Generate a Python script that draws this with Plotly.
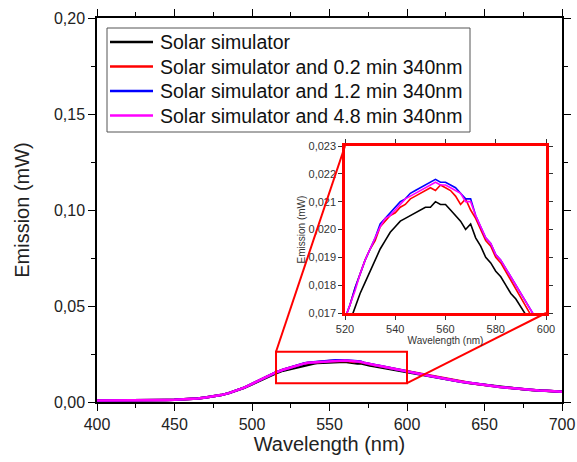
import plotly.graph_objects as go

# ---------------- data ----------------
wl_left = [400, 405, 410, 415, 420, 425, 430, 435, 440, 445, 450, 455, 460, 465,
           470, 475, 480, 485, 490, 495, 500, 505, 510, 515]
wl_mid = list(range(520, 601, 2))
wl_right = [605, 610, 615, 620, 625, 630, 635, 640, 645, 650, 655, 660, 665, 670,
            675, 680, 685, 690, 695, 700]
wavelength = wl_left + wl_mid + wl_right

left_colored = [0.0008, 0.0008, 0.0009, 0.0009, 0.0010, 0.0010, 0.0010, 0.0011, 0.0011,
                0.0011, 0.0012, 0.0013, 0.0015, 0.0018, 0.0023, 0.0028, 0.0036, 0.0046,
                0.0059, 0.0075, 0.0094, 0.0114, 0.0135, 0.0153]
left_black = [0.0008, 0.0008, 0.0009, 0.0009, 0.0010, 0.0010, 0.0010, 0.0011, 0.0011,
              0.0011, 0.0012, 0.0013, 0.0015, 0.0018, 0.0023, 0.0028, 0.0036, 0.0046,
              0.0059, 0.0074, 0.0092, 0.0111, 0.0131, 0.0148]
right_colored = [0.0152, 0.0143, 0.0135, 0.0127, 0.0120, 0.0113, 0.0106, 0.0100, 0.0094,
                 0.0088, 0.0083, 0.0078, 0.0074, 0.0070, 0.0066, 0.0063, 0.0060, 0.0058,
                 0.0056, 0.0054]
right_black = [0.0149, 0.0140, 0.0132, 0.0125, 0.0118, 0.0111, 0.0105, 0.0099, 0.0094,
               0.0088, 0.0083, 0.0078, 0.0074, 0.0070, 0.0066, 0.0063, 0.0060, 0.0058,
               0.0056, 0.0054]

mid_black = [0.0163, 0.0167, 0.0172, 0.0177, 0.0181, 0.0185, 0.0189, 0.0193, 0.0196, 0.0199,
             0.0201, 0.0203, 0.0204, 0.0205, 0.0206, 0.0207, 0.0208, 0.0208, 0.0210, 0.0209,
             0.0209, 0.0207, 0.0205, 0.0203, 0.0200, 0.0202, 0.0197, 0.0194, 0.0190, 0.0188,
             0.0185, 0.0183, 0.0180, 0.0177, 0.0175, 0.0172, 0.0169, 0.0166, 0.0163, 0.0161,
             0.0158]
mid_red = [0.0168, 0.0173, 0.0179, 0.0184, 0.0189, 0.0193, 0.0196, 0.0201, 0.0203, 0.0205,
           0.0206, 0.0208, 0.0209, 0.0211, 0.0212, 0.0213, 0.0214, 0.0215, 0.0214, 0.0216,
           0.0215, 0.0214, 0.0212, 0.0209, 0.0211, 0.0207, 0.0204, 0.0200, 0.0196, 0.0194,
           0.0190, 0.0188, 0.0185, 0.0182, 0.0179, 0.0176, 0.0173, 0.0170, 0.0167, 0.0164,
           0.0161]
mid_blue = [0.0168, 0.0173, 0.0179, 0.0184, 0.0189, 0.0193, 0.0197, 0.0202, 0.0204, 0.0206,
            0.0208, 0.0210, 0.0211, 0.0213, 0.0214, 0.0215, 0.0216, 0.0217, 0.0218, 0.0217,
            0.0217, 0.0216, 0.0215, 0.0213, 0.0211, 0.0211, 0.0205, 0.0201, 0.0197, 0.0195,
            0.0191, 0.0189, 0.0186, 0.0183, 0.0180, 0.0177, 0.0174, 0.0171, 0.0168, 0.0165,
            0.0162]
mid_magenta = [0.0168, 0.0173, 0.0178, 0.0184, 0.0189, 0.0193, 0.0197, 0.0201, 0.0204, 0.0205,
               0.0207, 0.0209, 0.0211, 0.0212, 0.0213, 0.0214, 0.0215, 0.0216, 0.0217, 0.0216,
               0.0216, 0.0215, 0.0214, 0.0213, 0.0210, 0.0210, 0.0205, 0.0201, 0.0197, 0.0195,
               0.0191, 0.0189, 0.0186, 0.0183, 0.0180, 0.0177, 0.0174, 0.0171, 0.0168, 0.0165,
               0.0162]

series_names = ["Solar simulator",
                "Solar simulator and 0.2 min 340nm",
                "Solar simulator and 1.2 min 340nm",
                "Solar simulator and 4.8 min 340nm"]
series_colors = ["#000000", "#ff0000", "#0000ff", "#ff00ff"]
series_values = [left_black + mid_black + right_black,
                 left_colored + mid_red + right_colored,
                 left_colored + mid_blue + right_colored,
                 left_colored + mid_magenta + right_colored]

# ---------------- figure ----------------
W, H = 577, 462
ML, MR, MT, MB = 97, 15, 18, 60
PW, PH = W - ML - MR, H - MT - MB


def paper_x(p):
    return (p - ML) / PW


def paper_y(p):
    return (H - MB - p) / PH


fig = go.Figure()
for name, col, vals in zip(series_names, series_colors, series_values):
    fig.add_trace(go.Scatter(x=wavelength, y=vals, name=name, mode="lines",
                             showlegend=False,
                             line=dict(color=col, width=2.5), xaxis="x", yaxis="y"))
for name, col, vals in zip(series_names, series_colors, series_values):
    fig.add_trace(go.Scatter(x=wavelength, y=vals, name=name, mode="lines",
                             showlegend=False, line=dict(color=col, width=1.6),
                             xaxis="x2", yaxis="y2"))

font_main = "Arial, Liberation Sans, sans-serif"
axis_common = dict(showline=True, linecolor="black", linewidth=1.5, mirror="ticks",
                   ticks="outside", ticklen=7, tickwidth=1.3, tickcolor="black",
                   showgrid=False, zeroline=False, automargin=False,
                   tickfont=dict(size=16, color="#222", family=font_main))

inset_x = [paper_x(345), paper_x(546)]
inset_y = [paper_y(313), paper_y(146)]

fig.update_layout(
    width=W, height=H,
    margin=dict(l=ML, r=MR, t=MT, b=MB, autoexpand=False),
    paper_bgcolor="white", plot_bgcolor="white",
    separators=", ",
    font=dict(family=font_main, color="#222"),
    showlegend=False,
    xaxis=dict(range=[400, 700], tick0=400, dtick=50, domain=[0, 1],
               minor=dict(dtick=25, ticklen=4, ticks="outside", tickcolor="black", tickwidth=1.3),
               title=dict(text="Wavelength (nm)", font=dict(size=20, color="#222"), standoff=2),
               **axis_common),
    yaxis=dict(range=[0, 0.2], tick0=0, dtick=0.05, tickformat=".2f", domain=[0, 1],
               minor=dict(dtick=0.025, ticklen=4, ticks="outside", tickcolor="black", tickwidth=1.3),
               title=dict(text="Emission (mW)", font=dict(size=20, color="#222"), standoff=19),
               **axis_common),
    xaxis2=dict(domain=inset_x, anchor="y2", range=[520, 600], tick0=520, dtick=20,
                showline=True, linecolor="red", linewidth=2.5, mirror="ticks",
                ticks="outside", ticklen=4, tickcolor="#333", showgrid=False, zeroline=False,
                automargin=False,
                tickfont=dict(size=11, color="#333"),
                title=dict(text="Wavelength (nm)", font=dict(size=10, color="#333"), standoff=4)),
    yaxis2=dict(domain=inset_y, anchor="x2", range=[0.017, 0.023], tick0=0.017,
                dtick=0.001, tickformat=".3f",
                showline=True, linecolor="red", linewidth=2.5, mirror="ticks",
                ticks="outside", ticklen=4, tickcolor="#333", showgrid=False, zeroline=False,
                automargin=False,
                tickfont=dict(size=11, color="#333"),
                title=dict(text="Emission (mW)", font=dict(size=10, color="#333"), standoff=2)),
)

# legend box drawn from the series names/colours
fig.add_shape(type="rect", xref="paper", yref="paper",
              x0=paper_x(107), x1=paper_x(470), y0=paper_y(132), y1=paper_y(28),
              line=dict(color="#555", width=1), fillcolor="white", layer="above")
for i, (name, col) in enumerate(zip(series_names, series_colors)):
    row = 42 + 24.5 * i
    fig.add_shape(type="line", xref="paper", yref="paper",
                  x0=paper_x(110), x1=paper_x(153), y0=paper_y(row), y1=paper_y(row),
                  line=dict(color=col, width=2.5), layer="above")
    fig.add_annotation(text=name, xref="paper", yref="paper",
                       x=paper_x(158), y=paper_y(row), xanchor="left", yanchor="middle",
                       showarrow=False, font=dict(size=19.5, color="#111", family=font_main))

# zoom rectangle and connecting lines
rect = dict(x0=515.5, x1=600, y0=0.0098, y1=0.0262)
fig.add_shape(type="rect", xref="x", yref="y", **rect,
              line=dict(color="red", width=2), fillcolor="rgba(0,0,0,0)")
px = lambda v: (v - 400) / 300
py = lambda v: v / 0.2
fig.add_shape(type="line", xref="paper", yref="paper",
              x0=px(rect["x0"]), y0=py(rect["y1"]), x1=inset_x[0], y1=inset_y[1],
              line=dict(color="red", width=2))
fig.add_shape(type="line", xref="paper", yref="paper",
              x0=px(rect["x1"]), y0=py(rect["y0"]), x1=inset_x[1], y1=inset_y[0],
              line=dict(color="red", width=2))

fig.write_html("out.html")
